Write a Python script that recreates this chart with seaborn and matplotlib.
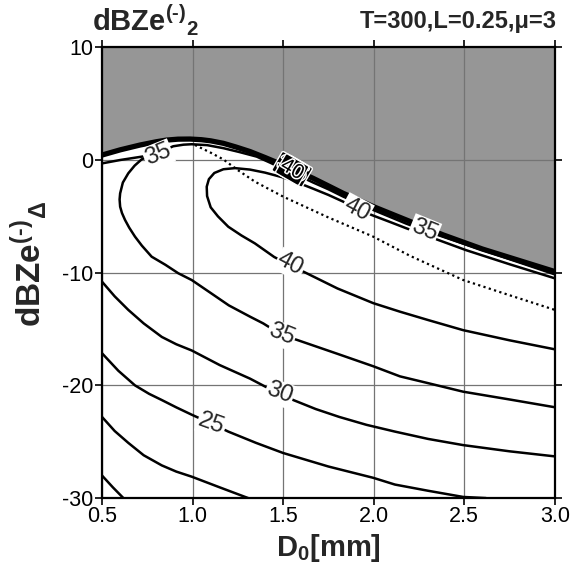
import numpy as np
import pandas as pd
import matplotlib
matplotlib.use("Agg")
import matplotlib.pyplot as plt
import matplotlib.patheffects as pe
import seaborn as sns

# ---------------- data ----------------
# upper limit (gray area above)
bound_x = [0.5, 0.6, 0.71, 0.8, 0.857, 0.92, 0.986, 1.05, 1.1, 1.17, 1.24, 1.317, 1.4, 1.5, 1.58, 1.666, 1.75, 1.832, 2.0, 2.18, 2.384, 2.6, 2.8, 3.0]
bound_y = [0.44, 0.9, 1.33, 1.62, 1.77, 1.85, 1.86, 1.8, 1.7, 1.48, 1.15, 0.75, 0.22, -0.45, -1.0, -1.63, -2.3, -2.96, -4.15, -5.32, -6.65, -7.9, -8.9, -9.9]

# contour 40 (opens to the right edge)
c40_x = [3.0, 2.75, 2.494, 2.3, 2.145, 1.997, 1.8, 1.611, 1.52, 1.45, 1.344, 1.27, 1.197, 1.14, 1.1, 1.08, 1.078, 1.09, 1.12, 1.17, 1.234, 1.317, 1.4, 1.5, 1.58, 1.666, 1.75, 1.832, 1.905, 2.0, 2.09, 2.18, 2.357, 2.51, 2.75, 3.0]
c40_y = [-16.8, -16.0, -15.1, -14.2, -13.46, -12.7, -11.4, -9.9, -9.2, -8.6, -7.4, -6.7, -5.92, -5.0, -4.2, -3.2, -2.37, -1.7, -1.15, -0.82, -0.72, -0.85, -1.12, -1.55, -2.0, -2.55, -3.1, -3.7, -4.35, -4.95, -5.5, -6.06, -7.1, -8.0, -9.25, -10.5]

# contour 35
c35_x = [3.0, 2.75, 2.494, 2.3, 2.145, 1.997, 1.8, 1.583, 1.49, 1.39, 1.317, 1.2, 1.1, 0.995, 0.921, 0.85, 0.774, 0.72, 0.682, 0.65, 0.627, 0.61, 0.6, 0.597, 0.6, 0.615, 0.645, 0.68, 0.719, 0.76, 0.81, 0.85, 0.893, 0.95, 0.995, 1.08, 1.17, 1.26, 1.354, 1.43, 1.5, 1.58, 1.666, 1.75, 1.832, 2.0, 2.18, 2.28, 2.5, 2.75, 3.0]
c35_y = [-21.94, -21.25, -20.56, -19.8, -19.2, -18.3, -17.2, -16.0, -15.5, -14.5, -13.9, -12.9, -11.8, -10.65, -10.05, -9.3, -8.58, -7.6, -6.8, -6.0, -5.32, -4.7, -4.14, -3.5, -2.96, -2.0, -1.18, -0.5, 0.06, 0.35, 0.6, 0.92, 1.22, 1.36, 1.4, 1.32, 1.05, 0.7, 0.3, -0.25, -0.8, -1.35, -2.0, -2.6, -3.25, -4.45, -5.65, -6.25, -7.45, -8.8, -10.15]

# contour 30 (lower part and upper part near the limit)
c30_x = [0.5, 0.57, 0.645, 0.73, 0.83, 0.91, 0.995, 1.15, 1.317, 1.40, 1.48, 1.556, 1.68, 1.81, 1.96, 2.117, 2.3, 2.494, 2.75, 3.0]
c30_y = [-10.8, -12.1, -13.3, -14.5, -15.7, -16.35, -16.9, -18.2, -19.4, -20.1, -20.7, -21.3, -22.1, -22.8, -23.5, -24.1, -24.75, -25.3, -25.85, -26.3]
c30u_x = [0.5, 0.6, 0.7, 0.78]
c30u_y = [-0.3, 0.0, 0.25, 0.45]

# contour 25
c25_x = [0.5, 0.59, 0.682, 0.76, 0.83, 0.91, 0.995, 1.105, 1.197, 1.35, 1.5, 1.75, 1.997, 2.117, 2.3, 2.494, 2.62]
c25_y = [-17.15, -18.7, -20.0, -20.75, -21.3, -21.95, -22.6, -23.4, -24.1, -25.1, -26.0, -27.2, -28.2, -28.8, -29.35, -29.9, -30.0]

# contour 20
c20_x = [0.5, 0.57, 0.645, 0.73, 0.83, 0.91, 0.995, 1.15, 1.307]
c20_y = [-22.8, -24.05, -25.1, -26.2, -27.1, -27.65, -28.1, -29.05, -30.0]

# contour 15
c15_x = [0.5, 0.56, 0.618]
c15_y = [-28.0, -29.05, -30.0]

# dotted ridge line
ridge_x = [1.013, 1.1, 1.17, 1.25, 1.344, 1.5, 1.75, 1.997, 2.2, 2.494, 2.75, 3.0]
ridge_y = [1.33, 0.65, 0.05, -0.9, -1.92, -3.25, -5.1, -6.8, -8.5, -10.65, -12.0, -13.3]

# contour labels: text, x, y, angle
lab_text = ["35", "40", "35", "40", "35", "30", "25"]
lab_x = [0.81, 1.905, 2.28, 1.54, 1.49, 1.48, 1.105]
lab_y = [0.45, -4.4, -6.2, -9.25, -15.5, -20.7, -23.4]
lab_rot = [22, -28, -22, -28, -22, -20, -20]

# crowded labels next to the limit
crowd_text = ["30", "35", "40"]
crowd_x = [1.53, 1.57, 1.55]
crowd_y = [-0.65, -1.0, -0.85]
crowd_rot = [-30, -30, -30]

x_ticks = [0.5, 1.0, 1.5, 2.0, 2.5, 3.0]
y_ticks = [-30, -20, -10, 0, 10]

# ---------------- styling ----------------
sns.set_style("ticks")
plt.rcParams["font.family"] = ["Liberation Sans", "DejaVu Sans"]
plt.rcParams["mathtext.fontset"] = "custom"
plt.rcParams["mathtext.rm"] = "Liberation Sans"
plt.rcParams["mathtext.bf"] = "Liberation Sans:bold"
plt.rcParams["mathtext.it"] = "Liberation Sans:italic"

L, B, R, T = 0.1756, 0.120, 0.955, 0.9164
fig = plt.figure(figsize=(5.81, 5.66), dpi=100)
ax = fig.add_axes([L, B, R - L, T - B])

ax.set_xlim(0.5, 3.0)
ax.set_ylim(-30, 10)

# gray area above limit
ax.fill_between(bound_x, bound_y, 10, color="#969696", lw=0, zorder=1)

# grid
ax.set_xticks(x_ticks)
ax.set_yticks(y_ticks)
ax.grid(True, color="#747474", lw=0.9, zorder=2)
ax.set_axisbelow(False)
for gl in ax.get_xgridlines() + ax.get_ygridlines():
    gl.set_zorder(2)

def draw(xs, ys, lw=1.8, ls="-"):
    df = pd.DataFrame({"x": xs, "y": ys})
    sns.lineplot(data=df, x="x", y="y", sort=False, estimator=None, color="black",
                 lw=lw, ls=ls, ax=ax, zorder=3)

draw(bound_x, bound_y, lw=3.8)
draw(c40_x, c40_y)
draw(c35_x, c35_y)
draw(c30_x, c30_y)
draw(c30u_x, c30u_y)
draw(c25_x, c25_y)
draw(c20_x, c20_y)
draw(c15_x, c15_y)
draw(ridge_x, ridge_y, lw=1.6, ls=(0, (1, 1.5)))

for t, x, y, r in zip(lab_text, lab_x, lab_y, lab_rot):
    ax.text(x, y, t, fontsize=17, rotation=r, ha="center", va="center", zorder=5,
            rotation_mode="anchor",
            bbox=dict(boxstyle="square,pad=0.05", fc="white", ec="none"))

for t, x, y, r in zip(crowd_text, crowd_x, crowd_y, crowd_rot):
    ax.text(x, y, t, fontsize=15, rotation=r, ha="center", va="center", zorder=5,
            rotation_mode="anchor", color="black",
            path_effects=[pe.withStroke(linewidth=2.2, foreground="white")],
            bbox=dict(boxstyle="round,pad=0.08", fc="black", ec="white", lw=1.0))

ax.set_xlabel("")
ax.set_ylabel("")
ax.set_xticklabels(["0.5", "1.0", "1.5", "2.0", "2.5", "3.0"])
ax.set_yticklabels(["-30", "-20", "-10", "0", "10"])
ax.tick_params(axis="both", which="both", direction="out", length=5, width=1.2,
               labelsize=15.5, top=True, right=True, pad=1, colors="black")
for s in ax.spines.values():
    s.set_linewidth(1.6)
    s.set_color("black")
    s.set_zorder(6)

hy = "\u2010"
fig.text(0.5 * (L + R), 0.004, r"$\mathbf{D_0[mm]}$", fontsize=21,
         ha="center", va="bottom")
fig.text(0.016, 0.505 * (B + T) + 0.01, r"$\mathbf{{dBZe^{(" + hy + r")}}_{\Delta}}$", fontsize=24,
         rotation=90, ha="left", va="center")
fig.text(0.158, 0.944, r"$\mathbf{{dBZe^{(" + hy + r")}}_{2}}$", fontsize=21,
         ha="left", va="baseline")
fig.text(0.958, 0.950, "T=300,L=0.25,\u03bc=3", fontsize=17, fontweight="bold",
         ha="right", va="baseline")

fig.savefig("out.png", dpi=100)
